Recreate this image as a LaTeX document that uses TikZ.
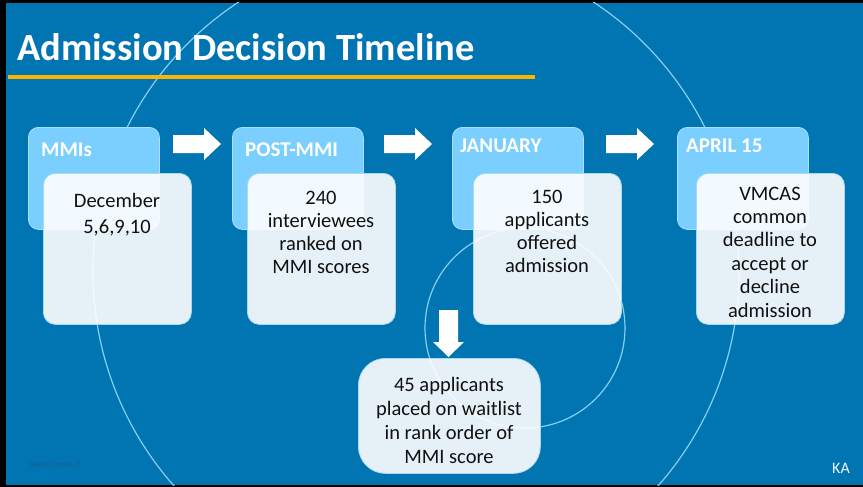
\documentclass[tikz,border=0pt]{standalone}
\usepackage{fontspec}
\setmainfont{Carlito}
\definecolor{bg}{HTML}{0175B2}
\definecolor{headfill}{HTML}{7BCFFF}
\definecolor{headline}{HTML}{A8E0FF}
\definecolor{boxline}{HTML}{A6DAF4}
\definecolor{ringcol}{HTML}{86CFF4}
\definecolor{orangebar}{HTML}{FFB400}
\definecolor{creditcol}{HTML}{1C5C8A}
\definecolor{bodytext}{HTML}{111111}
\tikzset{
  ring/.style={draw=ringcol, line width=1.2pt},
  headbox/.style={draw=headline, fill=headfill, line width=0.8pt, rounded corners=10pt,
    minimum width=131pt, minimum height=102pt, anchor=north west, inner sep=0pt},
  headlabel/.style={anchor=base west, text=white, inner sep=0pt, font=\fontsize{21}{24}\selectfont\bfseries},
  bodybox/.style={draw=boxline, fill=white, fill opacity=0.9, line width=0.8pt, rounded corners=12pt,
    minimum width=148pt, minimum height=151pt, anchor=north west, inner sep=0pt},
  bodylabel/.style={anchor=base, align=center, text=bodytext, inner sep=0pt},
  arrowfill/.style={fill=white},
}
\newcommand\myrarrow[2]{\fill[arrowfill] (#1,#2-9) -- ++(31,0) -- ++(0,-7) -- ++(17,16) -- ++(-17,16) -- ++(0,-7) -- ++(-31,0) -- cycle;}
\begin{document}
\begin{tikzpicture}[x=1pt,y=-1pt]
\useasboundingbox (0,0) rectangle (863,487);
\fill[black] (0,0) rectangle (863,487);
\fill[bg] (6,3) rectangle (863,485);
\begin{scope}
  \clip (6,3) rectangle (863,485);
  \draw[ring] (416,272) circle[radius=323];
  \draw[ring] (525,328) circle[radius=100];
\end{scope}
% title
\node[anchor=base west, inner sep=0pt, text=white, font=\fontsize{38.5}{42}\selectfont\bfseries] (title) at (17,61) {Admission Decision Timeline};
\draw[orangebar, line width=4pt] (8,77) -- (535,77);
% headers
\node[headbox] (h1) at (28,127) {};
\node[headbox] (h2) at (232,127) {};
\node[headbox] (h3) at (452,127) {};
\node[headbox] (h4) at (677,127) {};
\node[headlabel] (h1t) at (41,157) {MMIs};
\node[headlabel] (h2t) at (245,156) {POST-MMI};
\node[headlabel] (h3t) at (460,152) {JANUARY};
\node[headlabel] (h4t) at (686,152) {APRIL 15};
% body boxes
\node[bodybox] (b1) at (43,173) {};
\node[bodybox] (b2) at (247,173) {};
\node[bodybox] (b3) at (473,173) {};
\node[bodybox] (b4) at (696,173) {};
\node[bodylabel, font=\fontsize{20.5}{26}\selectfont] (b1t) at (117,233) {December\\5,6,9,10};
\node[bodylabel, font=\fontsize{20.5}{22.7}\selectfont] (b2t) at (321,273) {240\\interviewees\\ranked on\\MMI scores};
\node[bodylabel, font=\fontsize{20.5}{23}\selectfont] (b3t) at (547,272) {150\\applicants\\offered\\admission};
\node[bodylabel, font=\fontsize{20.5}{23.4}\selectfont] (b4t) at (770,317) {VMCAS\\common\\deadline to\\accept or\\decline\\admission};
% arrows
\myrarrow{173}{144}
\myrarrow{384}{144}
\myrarrow{606}{144}
\fill[arrowfill] (439,310) -- (458,310) -- (458,342) -- (464,342) -- (448.5,357) -- (433,342) -- (439,342) -- cycle;
% waitlist box
\node[draw=boxline, fill=white, fill opacity=0.9, line width=0.8pt, rounded corners=27pt,
  minimum width=182pt, minimum height=115pt, anchor=north west, inner sep=0pt] (w) at (358,358) {};
\node[bodylabel, font=\fontsize{20.5}{23.7}\selectfont] (wt) at (449,463) {45 applicants\\placed on waitlist\\in rank order of\\MMI score};
% footer
\node[anchor=base west, inner sep=0pt, text=creditcol, font=\fontsize{8}{9}\selectfont] (credit) at (30,467) {Neal Creative ©};
\node[anchor=base east, inner sep=0pt, text=white!90!headfill, font=\fontsize{16}{18}\selectfont] (ka) at (850,473) {KA};
\end{tikzpicture}
\end{document}
